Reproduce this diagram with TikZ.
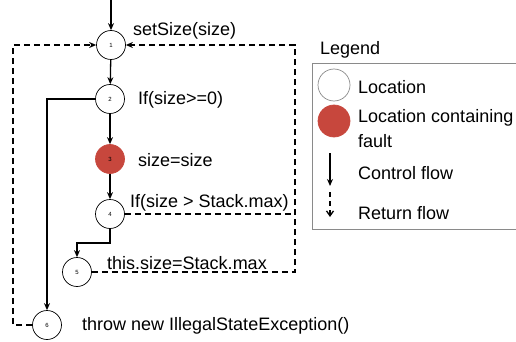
\documentclass[tikz,border=0pt]{standalone}
\usepackage{fontspec}
\setmainfont{Liberation Sans}
\usetikzlibrary{arrows.meta}
\definecolor{faultred}{HTML}{C7473D}
\definecolor{boxgray}{HTML}{8A8A8A}
\begin{document}
\begin{tikzpicture}[x=1pt,y=-1pt,
  loc/.style={circle,draw=black,line width=0.7pt,minimum size=29pt,inner sep=0pt,
              font=\fontsize{6}{7}\selectfont},
  faultloc/.style={loc,fill=faultred,draw=faultred},
  lbl/.style={anchor=west,inner sep=0pt,font=\fontsize{18}{21}\selectfont},
  ctrl/.style={draw,line width=1.3pt,-{Stealth[length=7pt,width=6pt]}},
  ret/.style={draw,line width=1.3pt,dash pattern=on 6pt off 4pt,-{Stealth[length=7pt,width=6pt]}},
  retplain/.style={draw,line width=1.3pt,dash pattern=on 6pt off 4pt}]
\useasboundingbox (0,0) rectangle (516,342);
\begin{scope}
\clip (0,0) rectangle (516,342);

% locations of the control flow graph
\node[loc] (n1) at (111,45) {1};
\node[loc] (n2) at (110,99) {2};
\node[faultloc] (n3) at (110,159) {3};
\node[loc] (n4) at (110,214) {4};
\node[loc] (n5) at (77,272) {5};
\node[loc] (n6) at (47,325) {6};

% statement labels
\node[lbl] (t1) at (133,31) {setSize(size)};
\node[lbl] (t2) at (138,100) {If(size>=0)};
\node[lbl] (t3) at (138,160) {size=size};
\node[lbl] (t4) at (130,203) {If(size > Stack.max)};
\node[lbl] (t5) at (107,263) {this.size=Stack.max};
\node[lbl] (t6) at (82,326) {throw new IllegalStateException()};

% routing points
\coordinate (entry) at (111,0);
\coordinate (b26) at (47,99);
\coordinate (b45a) at (110,243);
\coordinate (b45b) at (77,243);
\coordinate (lbot) at (13,325);
\coordinate (ltop) at (13,45);
\coordinate (r4) at (295,214);
\coordinate (r5) at (295,272);
\coordinate (rtop) at (295,45);

% control flow
\draw[ctrl] (entry) -- (n1);
\draw[ctrl] (n1) -- (n2);
\draw[ctrl] (n2) -- (n3);
\draw[ctrl] (n3) -- (n4);
\draw[ctrl] (n2.west) -- (b26) -- (n6);
\draw[ctrl] (n4.south) -- (b45a) -- (b45b) -- (n5);

% return flow
\draw[ret] (n6.west) -- (lbot) -- (ltop) -- (n1.west);
\draw[ret] (n5.east) -- (r5) -- (rtop) -- (n1.east);
\draw[retplain] (n4.east) -- (r4);

% legend
\node[lbl] (lg) at (320,50) {Legend};
\draw[boxgray,line width=0.8pt] (312,63) rectangle (530,229);
\node[loc,minimum size=32pt,draw=boxgray] (lloc) at (334,85) {};
\node[lbl] (lloct) at (358,87) {Location};
\node[faultloc,minimum size=32pt] (lfault) at (334,121) {};
\node[lbl] (lfaultt) at (358,118) {Location containing};
\node[lbl] (lfaultu) at (358,141) {fault};
\coordinate (ca) at (330,153);
\coordinate (cb) at (330,186);
\draw[ctrl] (ca) -- (cb);
\node[lbl] (lctrl) at (358,173) {Control flow};
\coordinate (ra) at (330,192);
\coordinate (rb) at (330,217);
\draw[line width=1.3pt,dash pattern=on 5pt off 4pt,-{Straight Barb[length=5pt,width=7pt]}] (ra) -- (rb);
\node[lbl] (lret) at (358,213) {Return flow};
\end{scope}
\end{tikzpicture}
\end{document}
